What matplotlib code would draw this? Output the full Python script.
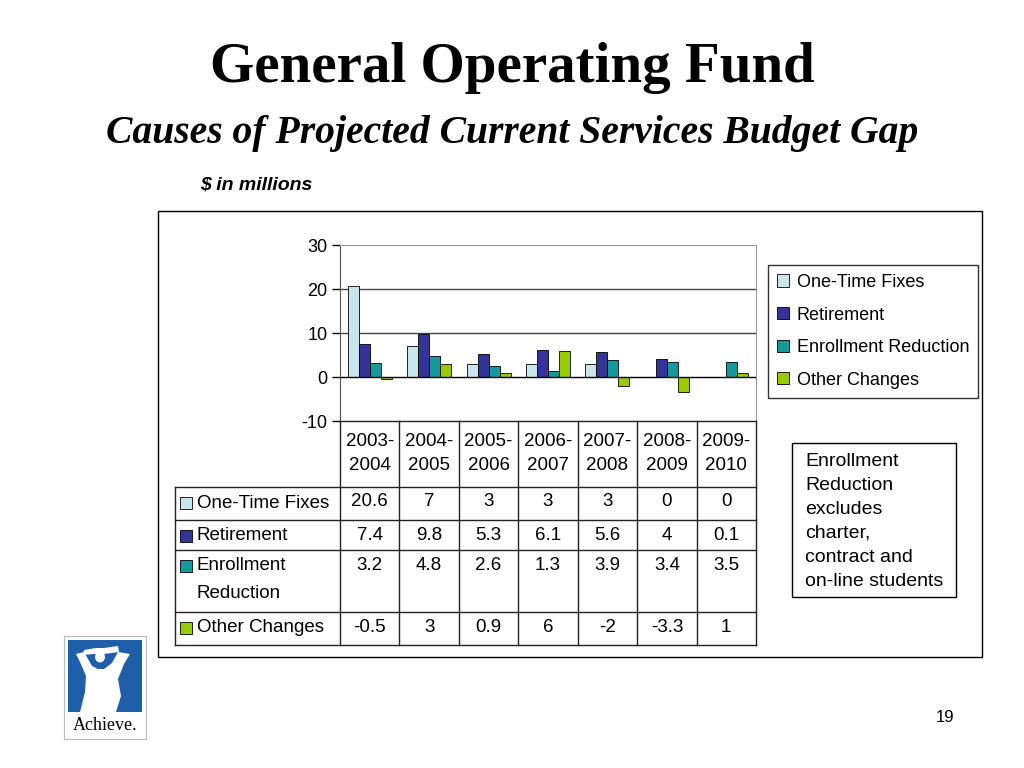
import numpy as np
import matplotlib.pyplot as plt
from matplotlib.patches import Rectangle, Polygon, Ellipse

years = ["2003-\n2004", "2004-\n2005", "2005-\n2006", "2006-\n2007",
         "2007-\n2008", "2008-\n2009", "2009-\n2010"]
series = ["One-Time Fixes", "Retirement", "Enrollment Reduction", "Other Changes"]
row_labels = ["One-Time Fixes", "Retirement", "Enrollment\nReduction", "Other Changes"]
one_time = [20.6, 7, 3, 3, 3, 0, 0]
retirement = [7.4, 9.8, 5.3, 6.1, 5.6, 4, 0.1]
enrollment = [3.2, 4.8, 2.6, 1.3, 3.9, 3.4, 3.5]
other = [-0.5, 3, 0.9, 6, -2, -3.3, 1]
colors = ["#c9e6ec", "#333399", "#15999a", "#99cc00"]
note_lines = ["Enrollment", "Reduction", "excludes", "charter,", "contract and", "on-line students"]

plt.rcParams['font.family'] = ['Liberation Sans', 'DejaVu Sans']
plt.rcParams['axes.unicode_minus'] = False

W, H = 1024, 768
def fx(x):
    return x / W
def fy(y):
    return 1 - y / H
def box(x0, y0, x1, y1):
    return [fx(x0), fy(y1), (x1 - x0) / W, (y1 - y0) / H]

fig = plt.figure(figsize=(10.24, 7.68), dpi=100)

# titles
fig.text(0.5, fy(68), "General Operating Fund", ha='center', va='center',
         family='Liberation Serif', fontweight='bold', fontsize=41)
fig.text(0.5, fy(134), "Causes of Projected Current Services Budget Gap", ha='center',
         va='center', family='Liberation Serif', fontweight='bold', style='italic', fontsize=28.5)
fig.text(fx(200), fy(185), "$ in millions", ha='left', va='center',
         fontweight='bold', style='italic', fontsize=14)
fig.text(fx(945), fy(718), "19", ha='center', va='center', fontsize=12)

# outer frame of chart
fig.add_artist(Rectangle((fx(158), fy(657)), (982 - 158) / W, (657 - 211) / H,
                         transform=fig.transFigure, fill=False, edgecolor='black', lw=1))

# bar chart
ax = fig.add_axes(box(340, 245, 756, 421))
data = [one_time, retirement, enrollment, other]
x = np.arange(len(years))
w = 0.185
for i, vals in enumerate(data):
    ax.bar(x + (i - 1.5) * w, vals, w, color=colors[i], edgecolor='black',
           linewidth=0.6, label=series[i], zorder=3)
ax.set_xlim(-0.5, len(years) - 0.5)
ax.set_ylim(-10, 30)
ax.set_yticks([-10, 0, 10, 20, 30])
ax.tick_params(axis='y', labelsize=13, length=6, width=1, direction='out', pad=3)
ax.set_xticks([])
for s in ['top', 'right']:
    ax.spines[s].set_color('#999999')
ax.spines['bottom'].set_visible(False)
ax.spines['left'].set_color('#555555')
for v in [10, 20]:
    ax.axhline(v, color='#444444', lw=1, zorder=1)
ax.axhline(0, color='black', lw=1, zorder=4)

leg = ax.legend(loc='upper left', bbox_to_anchor=(fx(768), fy(265)),
                bbox_transform=fig.transFigure, fontsize=13, frameon=True,
                fancybox=False, edgecolor='black', borderaxespad=0,
                handlelength=0.68, handleheight=0.68, handletextpad=0.4,
                labelspacing=0.86, borderpad=0.5)
leg.get_frame().set_linewidth(1)

# data table below the chart
lab_w = (340 - 175) / ((756 - 340) / len(years))
tab = fig.add_axes(box(175, 421, 756, 645))
tab.set_xlim(-0.5 - lab_w, len(years) - 0.5)
tab.set_ylim(645, 421)
tab.axis('off')
rows = [421, 487, 520, 550, 612, 645]
for k in range(len(years) + 1):
    tab.plot([k - 0.5, k - 0.5], [rows[0], rows[-1]], color='#222222', lw=1, clip_on=False)
tab.plot([-0.5 - lab_w] * 2, [rows[1], rows[-1]], color='#222222', lw=1, clip_on=False)
tab.plot([-0.5, len(years) - 0.5], [rows[0], rows[0]], color='#222222', lw=1, clip_on=False)
for r in rows[1:]:
    tab.plot([-0.5 - lab_w, len(years) - 0.5], [r, r], color='#222222', lw=1, clip_on=False)
for k, yl in enumerate(years):
    for j, part in enumerate(yl.split("\n")):
        tab.text(k, 441 + j * 25, part, ha='center', va='center', fontsize=13.5)
for i, vals in enumerate(data):
    top = rows[i + 1]
    yc = top + 16
    tab.add_patch(Rectangle((-0.5 - lab_w + 0.09, yc - 6), 0.19, 12, facecolor=colors[i],
                            edgecolor='black', lw=0.6))
    for j, part in enumerate(row_labels[i].split("\n")):
        tab.text(-0.5 - lab_w + 0.37, yc + j * 27, part, ha='left', va='center', fontsize=13.5)
    for k, v in enumerate(vals):
        tab.text(k, yc - 1, f"{v:g}", ha='center', va='center', fontsize=13.5)

# note box
fig.add_artist(Rectangle((fx(792), fy(597)), (956 - 792) / W, (597 - 443) / H,
                         transform=fig.transFigure, fill=False, edgecolor='black', lw=1))
for j, line in enumerate(note_lines):
    fig.text(fx(805), fy(461 + j * 24), line, ha='left', va='center', fontsize=14)

# logo
lg = fig.add_axes(box(62, 634, 148, 741))
lg.set_xlim(62, 148)
lg.set_ylim(741, 634)
lg.axis('off')
lg.add_patch(Rectangle((64, 636), 82, 103, fill=False, edgecolor='#bbbbbb', lw=0.8))
lg.add_patch(Rectangle((68, 640), 74, 72, facecolor='#1f5ea8', edgecolor='none'))
lg.add_patch(Polygon([(80, 712), (85, 692), (86, 676), (80, 662), (76, 654), (84, 652),
                      (92, 666), (98, 669), (104, 669), (112, 663), (118, 652), (130, 654),
                      (124, 664), (118, 679), (121, 696), (116, 712)],
                     closed=True, facecolor='white', edgecolor='none'))
lg.add_patch(Ellipse((100, 657), 10, 11, facecolor='white', edgecolor='none'))
lg.add_patch(Polygon([(84, 650), (96, 648), (104, 648), (118, 646), (119, 652), (104, 654),
                      (94, 654), (83, 655)],
                     closed=True, facecolor='white', edgecolor='none'))
lg.text(105, 726, "Achieve.", ha='center', va='center', family='Liberation Serif', fontsize=13)

fig.savefig("out.png", dpi=100)
